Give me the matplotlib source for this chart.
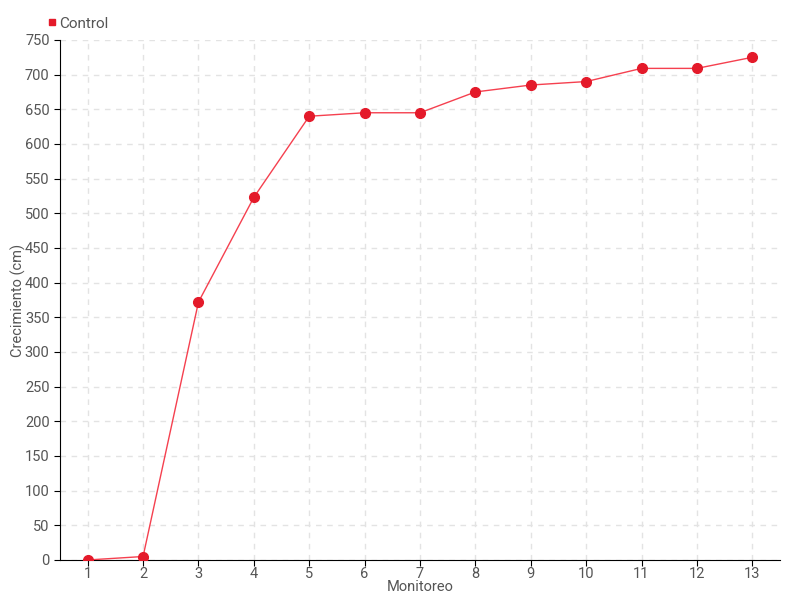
import matplotlib
matplotlib.use('Agg')
from matplotlib import pyplot as plt
from matplotlib.lines import Line2D

monitoreo = [1, 2, 3, 4, 5, 6, 7, 8, 9, 10, 11, 12, 13]
control = [0, 5, 372, 523, 640, 645, 645, 675, 685, 690, 709, 709, 725]
y_ticks = list(range(0, 751, 50))

plt.rcParams['font.family'] = ['Roboto', 'DejaVu Sans']
gris = '#555555'

fig = plt.figure(figsize=(8, 6), dpi=100)
ax = fig.add_axes([0.075, 0.0667, 0.9, 0.8667])

ax.plot(monitoreo, control, color='#f5404f', linewidth=1, zorder=3)
ax.plot(monitoreo, control, 'o', color='#e41a2a', markersize=7, zorder=4)

ax.set_xlim(0.5, 13.5)
ax.set_ylim(0, 750)
ax.set_xticks(monitoreo)
ax.set_yticks(y_ticks)
ax.tick_params(axis='both', colors='black', labelcolor=gris, labelsize=10.5, length=4)
ax.tick_params(axis='x', pad=1)

ax.spines['top'].set_visible(False)
ax.spines['right'].set_visible(False)
ax.grid(True, color='#e3e3e3', linestyle=(0, (4, 4)), linewidth=1)
ax.set_axisbelow(True)

ax.set_xlabel('Monitoreo', color=gris, fontsize=10.5, labelpad=-1)
ax.set_ylabel('Crecimiento (cm)', color=gris, fontsize=10.5, labelpad=-1)

h = Line2D([], [], marker='s', color='#e41a2a', linestyle='none', markersize=5)
fig.legend([h], ['Control'], loc='upper left', bbox_to_anchor=(0.04, 0.995),
           frameon=False, handletextpad=0.1, fontsize=11, labelcolor=gris,
           handlelength=0.8)

plt.savefig('out.png', dpi=100)
